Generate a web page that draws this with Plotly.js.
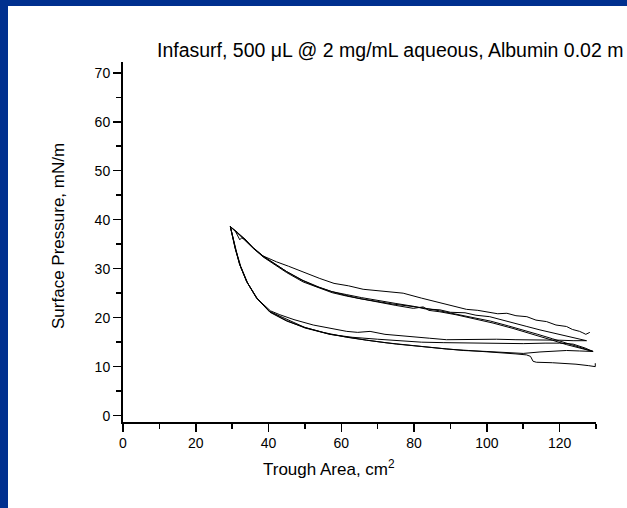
<!DOCTYPE html>
<html>
<head>
<meta charset="utf-8">
<script src="https://cdn.plot.ly/plotly-3.0.1.min.js"></script>
<style>
  html, body { margin: 0; padding: 0; background: #ffffff; }
  #wrap { position: relative; width: 627px; height: 508px; overflow: hidden; }
  #chart { position: absolute; left: 0; top: 0; width: 627px; height: 508px; }
  .bar-left { position: absolute; left: 0; top: 0; width: 8px; height: 508px; background: #00308f; }
  .bar-top { position: absolute; left: 0; top: 0; width: 627px; height: 6px; background: #00308f; }
</style>
</head>
<body>
<div id="wrap">
  <div id="chart"></div>
  <div class="bar-left"></div>
  <div class="bar-top"></div>
</div>
<script>
// ---- Data (Trough Area cm^2, Surface Pressure mN/m) ----
// Compression 1 (first, highest curve)
const comp1X = [128.3, 127.2, 126.4, 125.5, 123.5, 121.9, 119, 116.4, 113.5, 111, 108, 105.5, 103, 100, 97.5, 94.4, 91, 87.1, 82, 77, 72, 66, 62, 58, 54.1, 49.5, 45.5, 42.2, 38.5, 35.8, 33.5, 31.5, 29.5];
const comp1Y = [17.0, 16.6, 16.9, 17.2, 17.6, 18.2, 18.5, 19.2, 19.5, 20.2, 20.4, 20.9, 20.8, 21.2, 21.5, 21.7, 22.3, 23.0, 24.0, 25.0, 25.4, 25.8, 26.5, 27.0, 28.0, 29.4, 30.5, 31.4, 32.6, 34.2, 36.0, 37.4, 38.6];
// Expansion 1
const exp1X = [29.5, 30.0, 30.8, 32.1, 34.0, 36.7, 40.4, 45.0, 50.0, 56.9, 61.5, 67, 75.2, 82, 88.9, 93.5, 100, 105, 110, 114.6, 118, 121.9, 125.5, 129.2];
const exp1Y = [38.6, 37.0, 34.2, 30.8, 27.4, 24.0, 21.2, 19.4, 17.9, 16.6, 16.0, 15.4, 14.6, 14.1, 13.6, 13.3, 13.1, 12.9, 12.7, 13.0, 13.2, 13.3, 13.2, 13.1];
// Compression 2
const comp2X = [129.2, 125.5, 121.9, 118, 114.6, 111, 107.2, 101.7, 96.2, 91.5, 87.1, 84, 82.5, 79.8, 75, 70.6, 66, 61.5, 57.5, 54.1, 49.5, 45, 42, 38.5, 35.8, 33.5, 31, 29.5];
const comp2Y = [13.1, 13.8, 14.5, 15.4, 16.2, 17.0, 17.8, 18.9, 19.9, 20.6, 21.2, 21.5, 22.2, 21.9, 22.5, 23.1, 23.7, 24.4, 25.1, 26.0, 27.3, 29.2, 30.6, 32.4, 34.2, 36.1, 37.6, 38.6];
// Expansion 2 (upper, flatter)
const exp2X = [29.5, 30.1, 31, 32.4, 34.3, 37, 40.5, 43.1, 47, 52.3, 56.9, 61.5, 64.5, 67.9, 72, 79.8, 84.3, 88.9, 95, 102.7, 108, 114.6, 120, 123.7, 127.4];
const exp2Y = [38.6, 36.8, 33.8, 30.4, 27.0, 23.8, 21.4, 20.6, 19.6, 18.5, 17.8, 17.2, 17.0, 17.2, 16.6, 16.0, 15.8, 15.5, 15.6, 15.6, 15.5, 15.5, 15.4, 15.3, 15.3];
// Compression 3
const comp3X = [127.4, 124.5, 121.9, 118, 114.6, 111, 107, 104, 100.8, 97, 94, 90, 87.1, 83, 80, 75, 70, 65.5, 61.5, 57.5, 54, 49.5, 45, 42, 38.5, 35.8, 33.5, 32.6, 32.1, 31, 29.5];
const comp3Y = [15.3, 15.8, 16.2, 16.8, 17.5, 18.2, 19.0, 19.6, 20.2, 20.5, 21.0, 21.1, 21.6, 21.8, 22.3, 22.9, 23.5, 24.1, 24.7, 25.3, 26.2, 27.6, 29.4, 30.8, 32.6, 34.3, 36.0, 36.3, 35.9, 37.5, 38.6];
// Expansion 3
const exp3X = [29.5, 30, 30.9, 32.2, 34.1, 36.8, 40.4, 45, 50, 56.9, 63, 70, 75.2, 82, 88, 95, 102, 110, 116, 120, 123.7, 127, 129.2];
const exp3Y = [38.6, 37, 34, 30.6, 27.2, 23.9, 21.1, 19.3, 18.0, 16.6, 16.0, 15.6, 15.3, 15.0, 14.9, 14.8, 14.7, 14.7, 14.8, 14.8, 14.6, 13.8, 13.1];
// Compression 4
const comp4X = [129.2, 126, 122, 118, 114, 110, 106, 101, 96, 91, 87, 82.5, 78, 74, 70, 65, 61, 57, 53, 49, 45, 41.5, 38.5, 36, 33.5, 31, 29.5];
const comp4Y = [13.1, 13.8, 14.8, 15.7, 16.6, 17.5, 18.3, 19.3, 20.1, 20.8, 21.4, 22.0, 22.4, 22.8, 23.3, 23.9, 24.6, 25.4, 26.4, 27.7, 29.4, 31.0, 32.5, 34.0, 35.9, 37.6, 38.6];
// Expansion 4 (last, with drop near 112)
const exp4X = [29.5, 30, 30.8, 32, 33.9, 36.6, 40.2, 45, 50, 55, 61.5, 67, 72, 79.8, 88.9, 95, 102, 108, 110.9, 112, 112.7, 113.6, 118, 121, 124.5, 128, 129.8, 129.8];
const exp4Y = [38.6, 37.1, 34.4, 31, 27.5, 24.2, 21.3, 19.6, 18.0, 17.0, 16.0, 15.4, 14.9, 14.3, 13.6, 13.3, 13.0, 12.6, 12.4, 12.1, 11.1, 10.9, 10.8, 10.7, 10.5, 10.2, 10.0, 10.7];

const xTickVals = [0, 20, 40, 60, 80, 100, 120];
const yTickVals = [0, 10, 20, 30, 40, 50, 60, 70];

// Title as visible in the reference (cut at the right edge there)
const titleText = 'Infasurf, 500 \u03BCL @ 2 mg/mL aqueous, Albumin 0.02 m';
const xTitle = 'Trough Area, cm<sup>2</sup>';
const yTitle = 'Surface Pressure, mN/m';

const branches = [
  [comp1X, comp1Y], [exp1X, exp1Y],
  [comp2X, comp2Y], [exp2X, exp2Y],
  [comp3X, comp3Y], [exp3X, exp3Y],
  [comp4X, comp4Y], [exp4X, exp4Y]
];

const traces = branches.map(b => ({
  x: b[0], y: b[1], type: 'scatter', mode: 'lines',
  line: { color: '#000000', width: 1 }, hoverinfo: 'skip'
}));

const FONT = 'Arial, "Liberation Sans", sans-serif';
const W = 627, H = 508, ML = 123, MR = 31, MT = 62, MB = 86;
const PW = W - ML - MR, PH = H - MT - MB;

const axisCommon = {
  showgrid: false, zeroline: false, showline: true,
  linecolor: '#000000',
  ticks: 'outside', ticklen: 8, tickwidth: 1.5, tickcolor: '#000000',
  tickfont: { family: FONT, size: 14, color: '#000000' },
  fixedrange: true
};

const layout = {
  width: W, height: H,
  margin: { l: ML, r: MR, t: MT, b: MB, pad: 0 },
  paper_bgcolor: '#ffffff', plot_bgcolor: '#ffffff',
  showlegend: false,
  title: {
    text: titleText,
    font: { family: FONT, size: 19.5, color: '#000000' },
    xref: 'container', yref: 'container',
    x: 157 / W, xanchor: 'left',
    y: 1 - 50 / H, yanchor: 'middle'
  },
  xaxis: Object.assign({}, axisCommon, {
    linewidth: 1.5,
    range: [0, 130], tickvals: xTickVals, ticktext: xTickVals.map(String),
    minor: { dtick: 10, tick0: 0, ticks: 'outside', ticklen: 5, tickwidth: 1.5, tickcolor: '#000000' }
  }),
  yaxis: Object.assign({}, axisCommon, {
    linewidth: 2,
    range: [-1.3, 72.2], tickvals: yTickVals, ticktext: yTickVals.map(String),
    minor: { dtick: 5, tick0: 0, ticks: 'outside', ticklen: 5, tickwidth: 1.5, tickcolor: '#000000' }
  }),
  annotations: [
    {
      text: yTitle, textangle: -90, showarrow: false,
      xref: 'paper', yref: 'paper',
      x: (59 - ML) / PW, y: (H - MB - 236) / PH,
      xanchor: 'center', yanchor: 'middle',
      font: { family: FONT, size: 17, color: '#000000' }
    },
    {
      text: xTitle, showarrow: false,
      xref: 'paper', yref: 'paper',
      x: (329 - ML) / PW, y: (H - MB - 468) / PH,
      xanchor: 'center', yanchor: 'middle',
      font: { family: FONT, size: 17, color: '#000000' }
    }
  ]
};

Plotly.newPlot('chart', traces, layout, { displayModeBar: false, staticPlot: true });
</script>
</body>
</html>
